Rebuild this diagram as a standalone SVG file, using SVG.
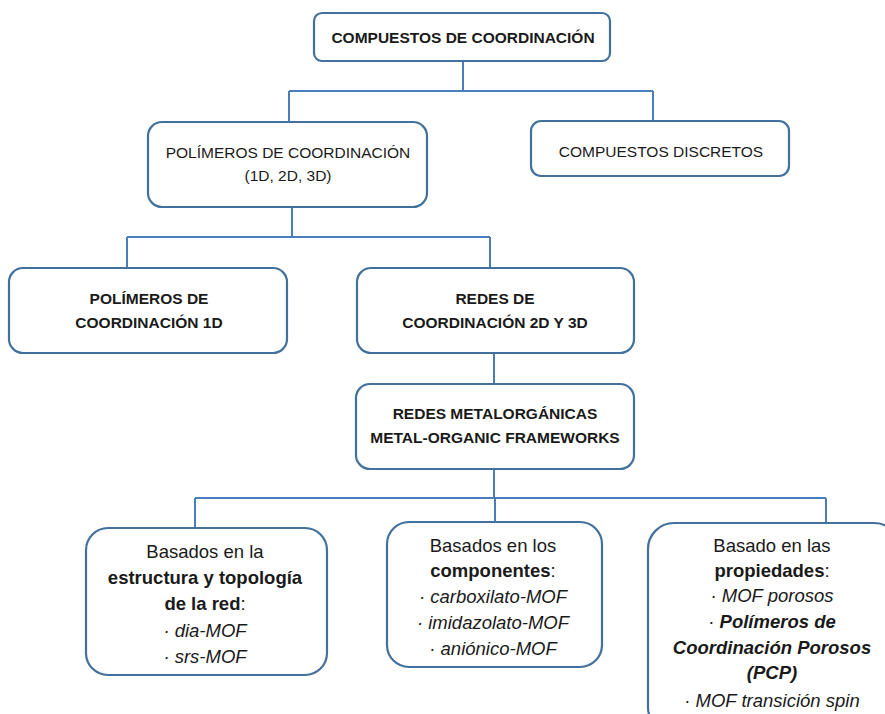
<svg xmlns="http://www.w3.org/2000/svg" width="885" height="714" viewBox="0 0 885 714">
<style>
.box{fill:#fff;stroke:#41719c;stroke-width:2.2}
.con{fill:none;stroke:#4a7ebb;stroke-width:2}
text{font-family:"Liberation Sans",Arial,sans-serif;fill:#1a1a1a;text-anchor:middle}
.h{font-size:15.5px}
.b{font-weight:bold}
.t{font-size:18.5px}
.i{font-style:italic}
</style>
<rect width="885" height="714" fill="#fff"/>
<g id="connectors">
<path class="con" d="M463 61V91M289 91H653M289 91V122M653 91V121"/>
<path class="con" d="M292 207V237M127 237H490M127 237V268M490 237V268"/>
<path class="con" d="M494 353V384"/>
<path class="con" d="M494 469V498M195 498H826M195 498V528M495 498V522M826 498V523"/>
</g>
<g id="n-compuestos">
<rect class="box" x="314" y="13" width="296" height="48" rx="8"/>
<text class="h b" x="463" y="43">COMPUESTOS DE COORDINACIÓN</text>
</g>
<g id="n-polimeros">
<rect class="box" x="148" y="122" width="279" height="85" rx="14"/>
<text class="h" x="288" y="158">POLÍMEROS DE COORDINACIÓN</text>
<text class="h" x="288" y="181">(1D, 2D, 3D)</text>
</g>
<g id="n-discretos">
<rect class="box" x="531" y="121" width="258" height="55" rx="10"/>
<text class="h" x="661" y="157">COMPUESTOS DISCRETOS</text>
</g>
<g id="n-1d">
<rect class="box" x="9" y="268" width="278" height="85" rx="14"/>
<text class="h b" x="149" y="304">POLÍMEROS DE</text>
<text class="h b" x="149" y="328">COORDINACIÓN 1D</text>
</g>
<g id="n-2d3d">
<rect class="box" x="357" y="268" width="277" height="85" rx="14"/>
<text class="h b" x="495" y="304">REDES DE</text>
<text class="h b" x="495" y="328">COORDINACIÓN 2D Y 3D</text>
</g>
<g id="n-mof">
<rect class="box" x="356" y="384" width="278" height="85" rx="14"/>
<text class="h b" x="495" y="419">REDES METALORGÁNICAS</text>
<text class="h b" x="495" y="443">METAL-ORGANIC FRAMEWORKS</text>
</g>
<g id="n-estructura">
<rect class="box" x="86" y="528" width="241" height="147" rx="22"/>
<text class="t" x="205" y="558">Basados en la</text>
<text class="t b" x="205" y="584">estructura y topología</text>
<text class="t" x="205" y="610"><tspan class="b">de la red</tspan>:</text>
<text class="t i" x="205" y="637">· dia-MOF</text>
<text class="t i" x="205" y="663">· srs-MOF</text>
</g>
<g id="n-componentes">
<rect class="box" x="387" y="522" width="215" height="145" rx="22"/>
<text class="t" x="493" y="552">Basados en los</text>
<text class="t" x="493" y="577"><tspan class="b">componentes</tspan>:</text>
<text class="t i" x="493" y="603">· carboxilato-MOF</text>
<text class="t i" x="493" y="629">· imidazolato-MOF</text>
<text class="t i" x="493" y="655">· aniónico-MOF</text>
</g>
<g id="n-propiedades">
<rect class="box" x="648" y="523" width="252" height="210" rx="26"/>
<text class="t" x="772" y="552">Basado en las</text>
<text class="t" x="772" y="577"><tspan class="b">propiedades</tspan>:</text>
<text class="t i" x="772" y="602">· MOF porosos</text>
<text class="t i" x="772" y="628">· <tspan class="b">Polímeros de</tspan></text>
<text class="t i b" x="772" y="654">Coordinación Porosos</text>
<text class="t i b" x="772" y="679">(PCP)</text>
<text class="t i" x="772" y="707">· MOF transición spin</text>
</g>
</svg>
